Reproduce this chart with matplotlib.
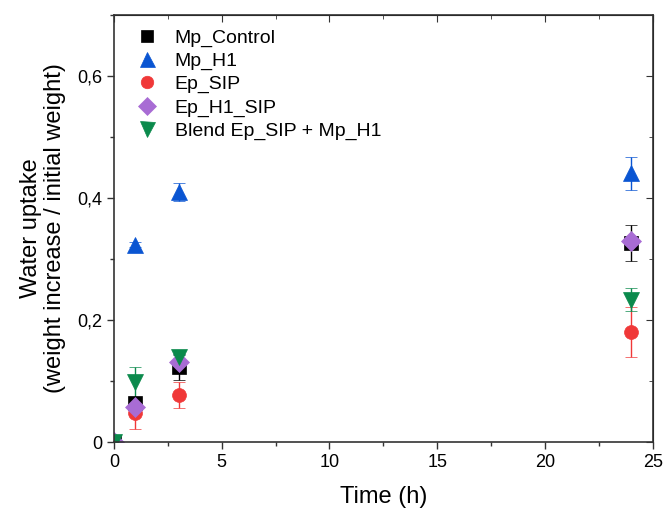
import numpy as np
import matplotlib
matplotlib.use('Agg')
import matplotlib.pyplot as plt
from matplotlib.ticker import FuncFormatter, MultipleLocator

plt.rcParams['font.family'] = ['Liberation Sans', 'DejaVu Sans']

# Data
time_h = [0, 1, 3, 24]

mp_control = [0, 0.064, 0.123, 0.326]
mp_control_err = [0, 0.010, 0.022, 0.030]

mp_h1 = [0, 0.323, 0.410, 0.440]
mp_h1_err = [0, 0.004, 0.015, 0.027]

ep_sip = [0, 0.048, 0.077, 0.180]
ep_sip_err = [0, 0.026, 0.022, 0.041]

ep_h1_sip = [0, 0.057, 0.131, 0.330]
ep_h1_sip_err = [0, 0.006, 0.012, 0.008]

blend = [0, 0.098, 0.139, 0.233]
blend_err = [0, 0.025, 0.004, 0.019]

series = [
    ('Mp_Control', mp_control, mp_control_err, 's', '#000000', 10),
    ('Mp_H1', mp_h1, mp_h1_err, '^', '#0a55d2', 12),
    ('Ep_SIP', ep_sip, ep_sip_err, 'o', '#f03838', 10),
    ('Ep_H1_SIP', ep_h1_sip, ep_h1_sip_err, 'D', '#a86cd4', 10),
    ('Blend Ep_SIP + Mp_H1', blend, blend_err, 'v', '#0b8a4c', 12),
]

fig = plt.figure(figsize=(6.66, 5.11), dpi=100)
ax = fig.add_axes([0.171, 0.135, 0.809, 0.836])

handles = []
for label, vals, errs, mk, col, ms in series:
    eb = ax.errorbar(time_h, vals, yerr=errs, fmt=mk, color=col, ecolor=col,
                     markersize=ms, markeredgecolor=col, markeredgewidth=0.5,
                     capsize=4, elinewidth=1.0, capthick=1.0, label=label)
    handles.append(eb[0])  # marker only, no error bar in legend

ax.set_xlim(0, 25)
ax.set_ylim(0, 0.7)
ax.xaxis.set_major_locator(MultipleLocator(5))
ax.xaxis.set_minor_locator(MultipleLocator(2.5))
ax.yaxis.set_major_locator(MultipleLocator(0.2))
ax.yaxis.set_minor_locator(MultipleLocator(0.1))

comma = FuncFormatter(lambda v, p: '0' if abs(v) < 1e-9 else f'{v:.1f}'.replace('.', ','))
ax.yaxis.set_major_formatter(comma)

ax.tick_params(which='major', direction='out', length=5, width=1, labelsize=13, colors='#333333')
ax.tick_params(which='minor', direction='out', length=3, width=1, colors='#333333')
ax.tick_params(labelcolor='black')
for s in ax.spines.values():
    s.set_color('#333333')
    s.set_linewidth(1.2)

# mirrored ticks pointing inward on top and right
top = ax.secondary_xaxis('top')
top.xaxis.set_major_locator(MultipleLocator(5))
top.xaxis.set_minor_locator(MultipleLocator(2.5))
top.tick_params(which='both', direction='in', labeltop=False, colors='#333333')
top.tick_params(which='major', length=5)
top.tick_params(which='minor', length=3)
right = ax.secondary_yaxis('right')
right.yaxis.set_major_locator(MultipleLocator(0.2))
right.yaxis.set_minor_locator(MultipleLocator(0.1))
right.tick_params(which='both', direction='in', labelright=False, colors='#333333')
right.tick_params(which='major', length=5)
right.tick_params(which='minor', length=3)

ax.set_xlabel('Time (h)', fontsize=17, labelpad=11)
ax.set_ylabel('Water uptake\n(weight increase / initial weight)', fontsize=17,
              labelpad=8, linespacing=1.1)

leg = ax.legend(handles, [s[0] for s in series], loc='upper left',
                bbox_to_anchor=(0.025, 0.985), frameon=False,
                fontsize=14, handletextpad=0.84, labelspacing=0.28,
                borderaxespad=0, handlelength=1.2, borderpad=0.4,
                markerscale=0.9)

fig.savefig('out.png', dpi=100)
